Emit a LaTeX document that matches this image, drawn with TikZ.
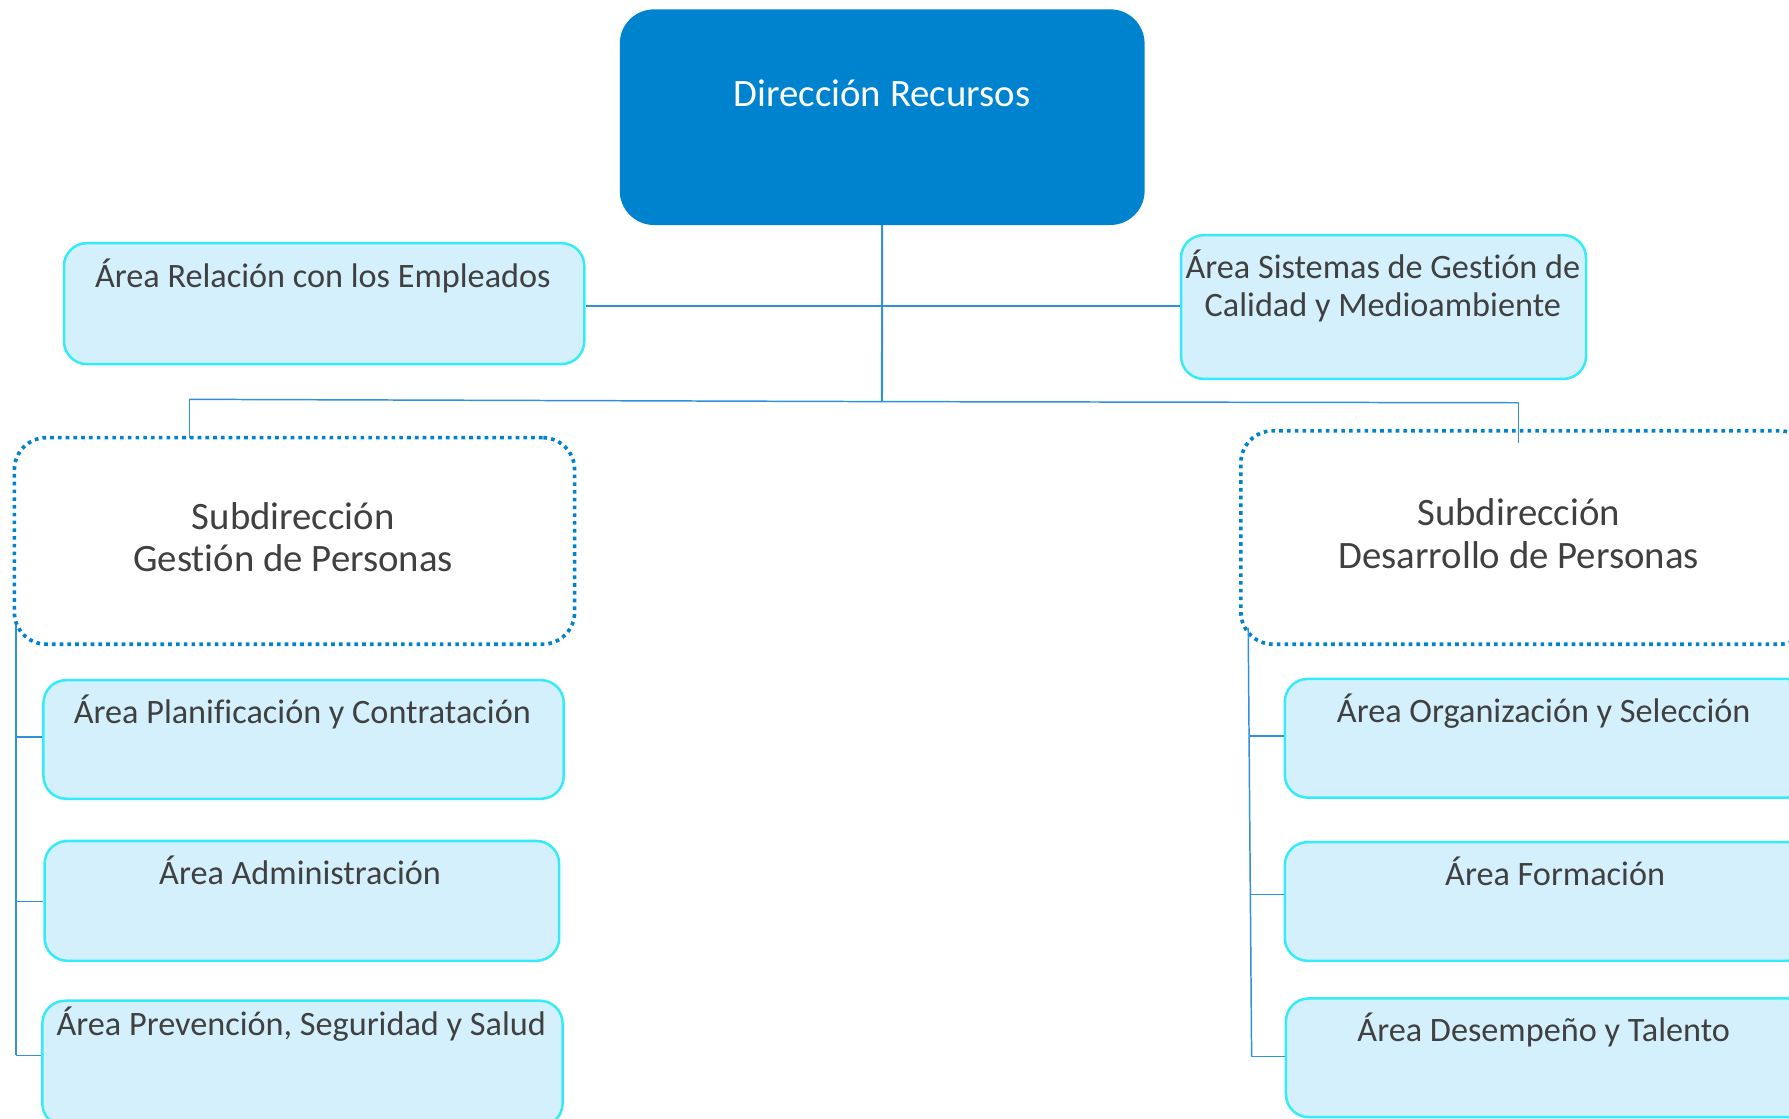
\documentclass[tikz,border=0pt]{standalone}
\usepackage{fontspec}
\setmainfont{Carlito}[Ligatures=NoCommon]
\definecolor{topblue}{HTML}{0083CF}
\definecolor{areafill}{HTML}{D5F0FD}
\definecolor{areaborder}{HTML}{36EBF8}
\definecolor{txt}{HTML}{404040}
\definecolor{linecol}{HTML}{3090D8}
\tikzset{
  box/.style={rounded corners=20bp, anchor=north west, inner sep=0pt},
  area/.style={box, draw=areaborder, line width=2.2bp, fill=areafill},
  subbox/.style={box, rounded corners=28bp, draw=topblue, line width=3.2bp, dash pattern=on 3.2bp off 3.6bp},
  areatext/.style={anchor=base, text=txt, font=\fontsize{30bp}{36bp}\selectfont, inner sep=0pt, align=center},
  subtext/.style={anchor=base, text=txt, font=\fontsize{34bp}{40bp}\selectfont, inner sep=0pt, align=center},
  conn/.style={draw=linecol, line width=1.3bp},
}
\begin{document}
\begin{tikzpicture}[x=1bp,y=-1bp]
\useasboundingbox (0,0) rectangle (1568,980);
\clip (0,0) rectangle (1568,980);
% top box
\node[box, rounded corners=30bp, fill=topblue, minimum width=460bp, minimum height=189bp] (top) at (543,8) {};
\node[anchor=base, text=white, font=\fontsize{34bp}{40bp}\selectfont, inner sep=0pt] (toptxt) at (773,93) {Dirección Recursos};
% side areas
\node[area, minimum width=456bp, minimum height=106bp] (rel) at (55,212) {};
\node[areatext] (reltxt) at (283,252) {Área Relación con los Empleados};
\node[area, minimum width=355bp, minimum height=126bp] (sis) at (1034,205) {};
\node[areatext] (sistxt) at (1212,244) {Área Sistemas de Gestión de};
\node[areatext] (sistxt2) at (1212,277) {Calidad y Medioambiente};
% subdirecciones
\node[subbox, minimum width=491bp, minimum height=181bp] (gest) at (11,382) {};
\node[subtext] (gesttxt) at (257,464) {Subdirección};
\node[subtext] (gesttxt2) at (257,501) {Gestión de Personas};
\node[subbox, minimum width=500bp, minimum height=187bp] (des) at (1086,376) {};
\node[subtext] (destxt) at (1331,461) {Subdirección};
\node[subtext] (destxt2) at (1331,498) {Desarrollo de Personas};
% left children
\node[area, minimum width=456bp, minimum height=104bp] (plan) at (37,595) {};
\node[areatext] (plantxt) at (265,634) {Área Planificación y Contratación};
\node[area, minimum width=451bp, minimum height=105bp] (adm) at (38,736) {};
\node[areatext] (admtxt) at (263,775) {Área Administración};
\node[area, minimum width=456bp, minimum height=110bp] (prev) at (36,876) {};
\node[areatext] (prevtxt) at (264,908) {Área Prevención, Seguridad y Salud};
% right children
\node[area, minimum width=460bp, minimum height=104bp] (org) at (1125,594) {};
\node[areatext] (orgtxt) at (1353,633) {Área Organización y Selección};
\node[area, minimum width=460bp, minimum height=104bp] (form) at (1125,737) {};
\node[areatext] (formtxt) at (1363,776) {Área Formación};
\node[area, minimum width=460bp, minimum height=104bp] (dese) at (1126,874) {};
\node[areatext] (desetxt) at (1353,913) {Área Desempeño y Talento};
% connectors
\coordinate (hub) at (773,352);
\coordinate (jl) at (166,350);
\coordinate (jr) at (1331,353);
\coordinate (lt) at (14,548);
\coordinate (lb) at (14,925);
\coordinate (rt) at (1094,550);
\coordinate (rb) at (1097,926);
\draw[conn, line width=1.8bp] (top.south) -- (hub);
\draw[conn] (rel.east |- 0,268) -- (sis.west |- 0,268);
\draw[conn] (jl) -- (hub) -- (jr);
\draw[conn] (jl) -- (166,384);
\draw[conn] (jr) -- (1331,388);
\draw[conn] (lt) -- (lb);
\draw[conn] (14,646) -- (plan.west |- 0,646);
\draw[conn] (14,790) -- (adm.west |- 0,790);
\draw[conn] (lb) -- (prev.west |- lb);
\draw[conn] (rt) -- (rb);
\draw[conn] (1095,645) -- (org.west |- 0,645);
\draw[conn] (1096,784) -- (form.west |- 0,784);
\draw[conn] (rb) -- (dese.west |- rb);
\end{tikzpicture}
\end{document}
